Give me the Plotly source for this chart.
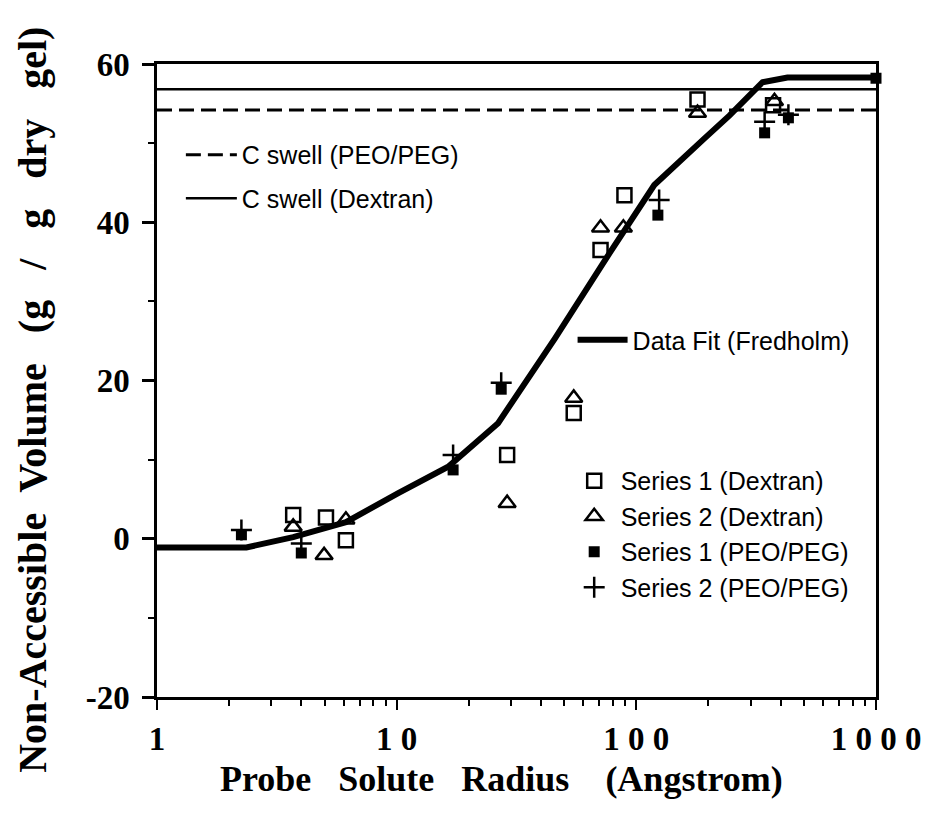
import plotly.graph_objects as go

# ---- data ----
cswell_x = [1, 1000]
cswell_peo = [54.2, 54.2]
cswell_dex = [56.8, 56.8]

fit_x = [1, 2.36, 3.7, 6.14, 10.2, 16.4, 26.5, 45.7, 75.8, 118.8, 191, 245, 336, 427, 1000]
fit_y = [-1.1, -1.1, 0.2, 2.1, 5.8, 9.1, 14.6, 25.3, 35.7, 44.7, 50.5, 53.5, 57.7, 58.3, 58.3]

s1_dex_x = [3.7, 5.07, 6.14, 28.9, 54.8, 70.9, 89.2, 180, 372]
s1_dex_y = [3.0, 2.7, -0.2, 10.6, 15.9, 36.5, 43.4, 55.5, 54.8]

s2_dex_x = [3.7, 4.98, 6.14, 28.9, 54.8, 70.9, 88.3, 180, 377]
s2_dex_y = [1.5, -2.1, 2.4, 4.5, 17.8, 39.3, 39.3, 53.8, 55.3]

s1_peo_x = [2.25, 4.0, 17.2, 27.3, 123, 343, 431, 1000]
s1_peo_y = [0.5, -1.8, 8.7, 18.9, 40.9, 51.3, 53.2, 58.2]

s2_peo_x = [2.25, 4.0, 17.2, 27.3, 124.5, 343, 431]
s2_peo_y = [1.1, -0.6, 10.6, 19.7, 42.8, 52.7, 53.6]

x_tickvals = [1, 10, 100, 1000]
x_ticktext = ["1", "1 0", "1 0 0", "1 0 0 0"]
y_tickvals = [-20, 0, 20, 40, 60]
y_ticktext = ["-20", "0", "20", "40", "60"]

SANS = "Liberation Sans, Arial, Helvetica, sans-serif"
SERIF = "Liberation Serif, Times New Roman, serif"
NB = "\u00a0"

fig = go.Figure()

fig.add_trace(go.Scatter(
    x=cswell_x, y=cswell_peo, mode="lines", name="C swell (PEO/PEG)",
    line=dict(color="black", width=3, dash="15px,7px"),
    legend="legend", legendgroup="a"))
fig.add_trace(go.Scatter(
    x=cswell_x, y=cswell_dex, mode="lines", name="C swell (Dextran)",
    line=dict(color="black", width=2.5),
    legend="legend", legendgroup="b"))
fig.add_trace(go.Scatter(
    x=fit_x, y=fit_y, mode="lines", name="Data Fit (Fredholm)",
    line=dict(color="black", width=6),
    legend="legend2"))

fig.add_trace(go.Scatter(
    x=s1_dex_x, y=s1_dex_y, mode="markers", name="Series 1 (Dextran)",
    marker=dict(symbol="square-open", size=14, color="black", line=dict(width=2.5, color="black")),
    legend="legend3", cliponaxis=False))
fig.add_trace(go.Scatter(
    x=s2_dex_x, y=s2_dex_y, mode="markers", name="Series 2 (Dextran)",
    marker=dict(symbol="triangle-up-open", size=15, color="black", line=dict(width=2.5, color="black")),
    legend="legend3", cliponaxis=False))
fig.add_trace(go.Scatter(
    x=s1_peo_x, y=s1_peo_y, mode="markers", name="Series 1 (PEO/PEG)",
    marker=dict(symbol="square", size=11, color="black", line=dict(width=0)),
    legend="legend3", cliponaxis=False))
fig.add_trace(go.Scatter(
    x=s2_peo_x, y=s2_peo_y, mode="markers", name="Series 2 (PEO/PEG)",
    marker=dict(symbol="cross-thin", size=15, color="black", line=dict(width=2.5, color="black")),
    legend="legend3", cliponaxis=False))

legend_common = dict(bgcolor="rgba(0,0,0,0)", borderwidth=0,
                     font=dict(family=SANS, size=25, color="black"),
                     xanchor="left", yanchor="top", traceorder="grouped")

fig.update_layout(
    width=933, height=831,
    margin=dict(l=157, r=53, t=64, b=134),
    paper_bgcolor="white", plot_bgcolor="white",
    showlegend=True,
    legend=dict(x=0.0332, y=0.8926, itemwidth=51, tracegroupgap=8, **legend_common),
    legend2=dict(x=0.578, y=0.6003, itemwidth=50, **legend_common),
    legend3=dict(x=0.5712, y=0.3776, itemwidth=43, tracegroupgap=0, **legend_common),
    xaxis=dict(
        type="log", range=[0, 3],
        showline=True, linewidth=3, linecolor="black", mirror=True,
        showgrid=False, zeroline=False,
        ticks="outside", ticklen=10, tickwidth=2, tickcolor="black",
        tickmode="array", tickvals=x_tickvals, ticktext=x_ticktext,
        tickfont=dict(family=SERIF, size=33, color="black", weight="bold"),
        ticklabelstandoff=0,
        minor=dict(tickmode="array",
                   tickvals=[m * d for d in (1, 10, 100) for m in range(2, 10)],
                   ticks="outside", ticklen=6, tickwidth=2, tickcolor="black", showgrid=False),
    ),
    yaxis=dict(
        range=[-20, 60],
        showline=True, linewidth=2.5, linecolor="black", mirror=True,
        showgrid=False, zeroline=False,
        ticks="outside", ticklen=12, tickwidth=2.5, tickcolor="black",
        tickmode="array", tickvals=y_tickvals, ticktext=y_ticktext,
        tickfont=dict(family=SERIF, size=33, color="black", weight="bold"),
        ticklabelstandoff=6,
        minor=dict(tickmode="array", tickvals=[-10, 10, 30, 50],
                   ticks="outside", ticklen=6, tickwidth=2, tickcolor="black", showgrid=False),
    ),
    annotations=[
        dict(text=("Non-Accessible" + NB * 2 + "Volume" + NB * 3 + "(g" + NB * 3 + "/" + NB * 3 + "g"
                   + NB * 3 + "dry" + NB * 3 + "gel)"),
             xref="paper", yref="paper", x=-0.1743, y=0.469, textangle=-90,
             showarrow=False, xanchor="center", yanchor="middle",
             font=dict(family=SERIF, size=40, color="black", weight="bold")),
        dict(text="Probe" + NB * 3 + "Solute" + NB * 3 + "Radius" + NB * 4 + "(Angstrom)",
             xref="paper", yref="paper", x=0.4786, y=-0.1295,
             showarrow=False, xanchor="center", yanchor="middle",
             font=dict(family=SERIF, size=36, color="black", weight="bold")),
    ],
)

fig.write_html("out.html")
